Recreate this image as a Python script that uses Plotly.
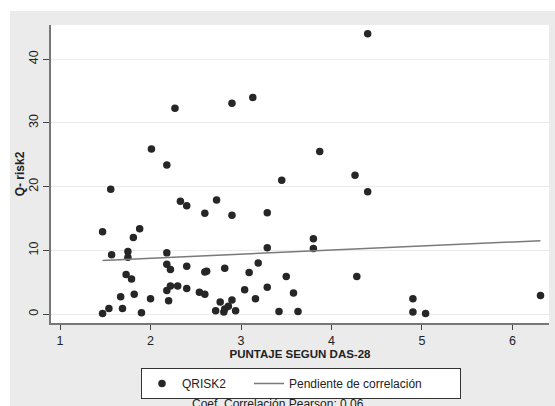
import plotly.graph_objects as go

das28 = [1.47, 1.47, 1.54, 1.56, 1.57, 1.67, 1.69, 1.73, 1.75, 1.75,
         1.79, 1.81, 1.82, 1.88, 1.90, 2.00, 2.01, 2.18, 2.18, 2.18,
         2.18, 2.20, 2.22, 2.22, 2.27, 2.30, 2.33, 2.40, 2.40, 2.40,
         2.54, 2.60, 2.60, 2.60, 2.62, 2.72, 2.73, 2.77, 2.81, 2.82,
         2.82, 2.86, 2.90, 2.90, 2.90, 2.94, 3.04, 3.09, 3.13, 3.16,
         3.19, 3.29, 3.29, 3.29, 3.42, 3.45, 3.50, 3.58, 3.63, 3.80,
         3.80, 3.87, 4.26, 4.28, 4.40, 4.40, 4.90, 4.90, 5.04, 6.31]
qrisk2 = [12.9, 0.1, 0.85, 19.6, 9.3, 2.7, 0.85, 6.2, 9.8, 8.9,
          5.5, 12.0, 3.1, 13.4, 0.2, 2.4, 25.9, 23.4, 9.6, 7.8,
          3.7, 2.1, 7.0, 4.4, 32.3, 4.4, 17.7, 17.0, 7.5, 4.0,
          3.4, 15.8, 6.6, 3.1, 6.7, 0.5, 17.9, 1.9, 0.3, 7.2,
          0.8, 1.2, 33.1, 15.5, 2.2, 0.5, 3.8, 6.5, 34.0, 2.4,
          8.0, 15.9, 10.4, 4.2, 0.4, 21.0, 5.9, 3.3, 0.4, 11.8,
          10.3, 25.5, 21.8, 5.9, 44.0, 19.2, 2.4, 0.3, 0.1, 2.9]
trend_x = [1.47, 6.31]
trend_y = [8.42, 11.51]
x_ticks = [1, 2, 3, 4, 5, 6]
y_ticks = [0, 10, 20, 30, 40]

FONT = "Liberation Sans, Arial, Helvetica, sans-serif"
W, H = 555, 406
L, R, T, B = 51, 6, 25, 83
PW, PH = W - L - R, H - T - B

fig = go.Figure()
fig.add_trace(go.Scatter(x=das28, y=qrisk2, mode="markers", name="QRISK2",
                         marker=dict(color="#262626", size=7.5, line=dict(width=0)),
                         legendwidth=62))
fig.add_trace(go.Scatter(x=trend_x, y=trend_y, mode="lines", name="Pendiente de correlación",
                         line=dict(color="#7a7a7a", width=1.5), legendwidth=166))

def px_x(p):
    return (p - L) / PW

def px_y(p):
    return (T + PH - p) / PH

# white strips at top and left of the grey background
fig.add_shape(type="rect", xref="paper", yref="paper", x0=px_x(0), x1=px_x(W + 5),
              y0=px_y(11), y1=px_y(-5), fillcolor="white", line_width=0, layer="below")
fig.add_shape(type="rect", xref="paper", yref="paper", x0=px_x(-5), x1=px_x(10),
              y0=px_y(H + 5), y1=px_y(-5), fillcolor="white", line_width=0, layer="below")

fig.add_annotation(text="Coef. Correlación Pearson: 0.06", xref="paper", yref="paper",
                   x=px_x(278), y=px_y(395), xanchor="center", yanchor="top",
                   showarrow=False, font=dict(family=FONT, size=12, color="#222"))

fig.update_layout(
    width=W, height=H,
    margin=dict(l=L, r=R, t=T, b=B, pad=0, autoexpand=False),
    paper_bgcolor="#ebebeb", plot_bgcolor="white",
    font=dict(family=FONT, size=12, color="#222"),
    showlegend=True,
    legend=dict(orientation="h", x=px_x(141), xanchor="left", y=px_y(368), yanchor="top",
                bgcolor="white", bordercolor="#333", borderwidth=1,
                font=dict(family=FONT, size=12, color="#222"), traceorder="normal"),
)
fig.update_xaxes(range=[0.90, 6.404], tickvals=x_ticks, ticks="outside", ticklen=5,
                 tickcolor="#444", tickwidth=1, showgrid=False, zeroline=False,
                 showline=True, linecolor="#777", linewidth=1.5,
                 title=dict(text="<b>PUNTAJE SEGUN DAS-28</b>", standoff=3,
                            font=dict(family=FONT, size=11.5, color="#222")),
                 tickfont=dict(family=FONT, size=12.5, color="#222"))
fig.update_yaxes(range=[-1.41, 45.37], tickvals=y_ticks, ticks="outside", ticklen=6,
                 tickcolor="#444", tickwidth=1, showgrid=True, gridcolor="#ebebeb",
                 gridwidth=1, zeroline=False, showline=True, linecolor="#777", linewidth=1.5,
                 tickangle=-90,
                 title=dict(text="<b>Q- risk2</b>", standoff=0,
                            font=dict(family=FONT, size=12, color="#222")),
                 tickfont=dict(family=FONT, size=12.5, color="#222"))

fig.write_html("out.html", config={"displayModeBar": False},
               post_script="document.body.style.margin='0';")
